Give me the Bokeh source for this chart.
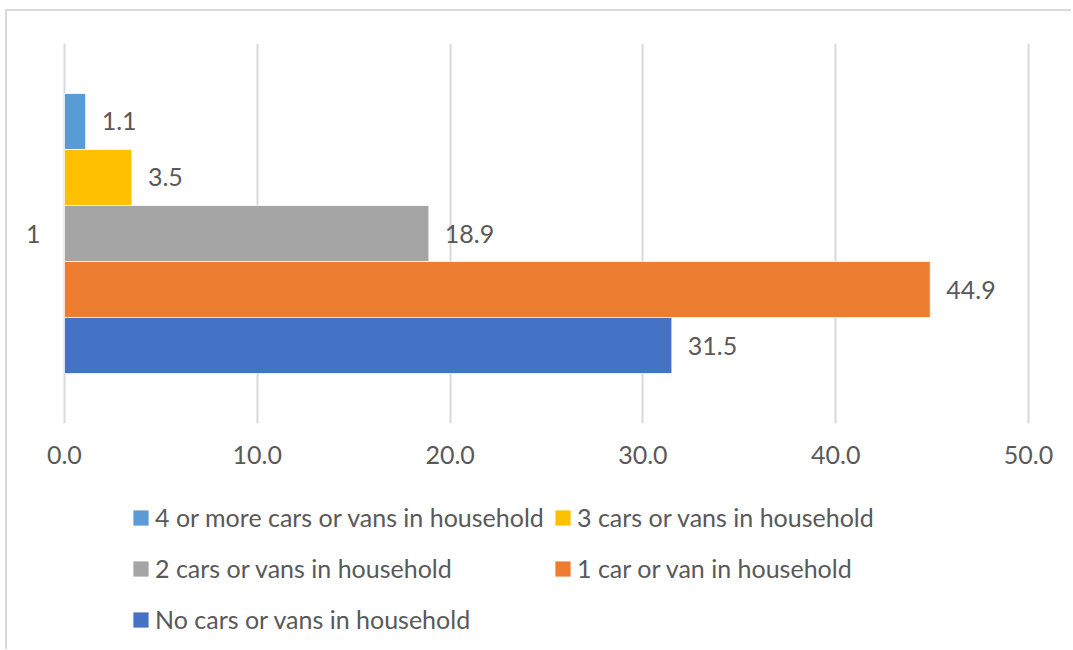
from bokeh.plotting import figure
from bokeh.layouts import column
from bokeh.models import (ColumnDataSource, FactorRange, Range1d, Legend, LegendItem,
                          FixedTicker, NumeralTickFormatter)
from bokeh.transform import dodge
from bokeh.core.properties import value
from bokeh.embed import file_html
from bokeh.resources import INLINE

categories = ["1"]
series = ["4 or more cars or vans in household", "3 cars or vans in household",
          "2 cars or vans in household", "1 car or van in household",
          "No cars or vans in household"]
values = [1.1, 3.5, 18.9, 44.9, 31.5]
colors = ["#5B9BD5", "#FFC000", "#A5A5A5", "#ED7D31", "#4472C4"]
x_ticks = [0, 10, 20, 30, 40, 50]

FONT = "Lato"
TXT = "#595959"
FS = "25px"
W = 1064
H1 = 472
H2 = 166

p = figure(width=W, height=H1, y_range=FactorRange(*categories),
           x_range=Range1d(-0.1, 50.1), output_backend="svg", toolbar_location=None,
           min_border_left=55, min_border_right=41, min_border_top=32,
           min_border_bottom=60)
p.outline_line_color = None

# legend-only figure below the chart
q = figure(width=W, height=H2, y_range=FactorRange(*categories),
           x_range=Range1d(-0.1, 50.1), output_backend="svg", toolbar_location=None,
           x_axis_location=None, y_axis_location=None,
           min_border_left=0, min_border_right=0, min_border_top=0, min_border_bottom=0)
q.outline_line_color = None
q.xgrid.visible = False
q.ygrid.visible = False

bar_h = 0.1474
legend_renderers = []
for i, (name, v, c) in enumerate(zip(series, values, colors)):
    off = (2 - i) * bar_h
    src = ColumnDataSource(dict(cat=categories, val=[v], lab=[f"{v:.1f}"]))
    p.hbar(y=dodge("cat", off, range=p.y_range), right="val", left=0, height=bar_h,
           source=src, fill_color=c, line_color="white", line_width=0.75)
    p.text(x="val", y=dodge("cat", off, range=p.y_range), text="lab", source=src,
           x_offset=16, text_baseline="middle", text_align="left",
           text_font=value(FONT), text_font_size=FS, text_color=TXT)
    lr = q.hbar(y=dodge("cat", off, range=q.y_range), right="val", left=0, height=bar_h,
                source=src, fill_color=c, line_color=None, visible=False)
    legend_renderers.append(lr)

p.xgrid.grid_line_color = "#d9d9d9"
p.xgrid.grid_line_width = 2
p.ygrid.grid_line_color = None

p.xaxis.ticker = FixedTicker(ticks=x_ticks)
p.xaxis.formatter = NumeralTickFormatter(format="0.0")
for ax in (p.xaxis, p.yaxis):
    ax.axis_line_color = None
    ax.major_tick_line_color = None
    ax.minor_tick_line_color = None
    ax.major_label_text_font = FONT
    ax.major_label_text_font_size = FS
    ax.major_label_text_color = TXT
p.xaxis.major_label_standoff = 16
p.yaxis.major_label_standoff = 16

LH, SP = 32, 19

def mk_legend(idx, x_left, top_from_top):
    n = len(idx)
    h = n * LH + (n - 1) * SP
    lg = Legend(items=[LegendItem(label=series[i], renderers=[legend_renderers[i]]) for i in idx],
                location=(x_left, H2 - top_from_top - h), orientation="vertical",
                padding=0, margin=0, border_line_color=None, background_fill_alpha=0,
                glyph_width=19, glyph_height=19, label_standoff=5,
                label_height=LH, spacing=SP,
                label_text_font=FONT, label_text_font_size=FS, label_text_color=TXT)
    q.add_layout(lg, "center")

mk_legend([0, 2, 4], 69, 18)
mk_legend([1, 3], 491, 18)

layout = column(p, q, spacing=0)
layout.styles = {"border-top": "2px solid #d9d9d9", "border-left": "2px solid #d9d9d9",
                 "margin-left": "5px", "margin-top": "9px"}

open("out.html", "w").write(file_html(layout, INLINE))
